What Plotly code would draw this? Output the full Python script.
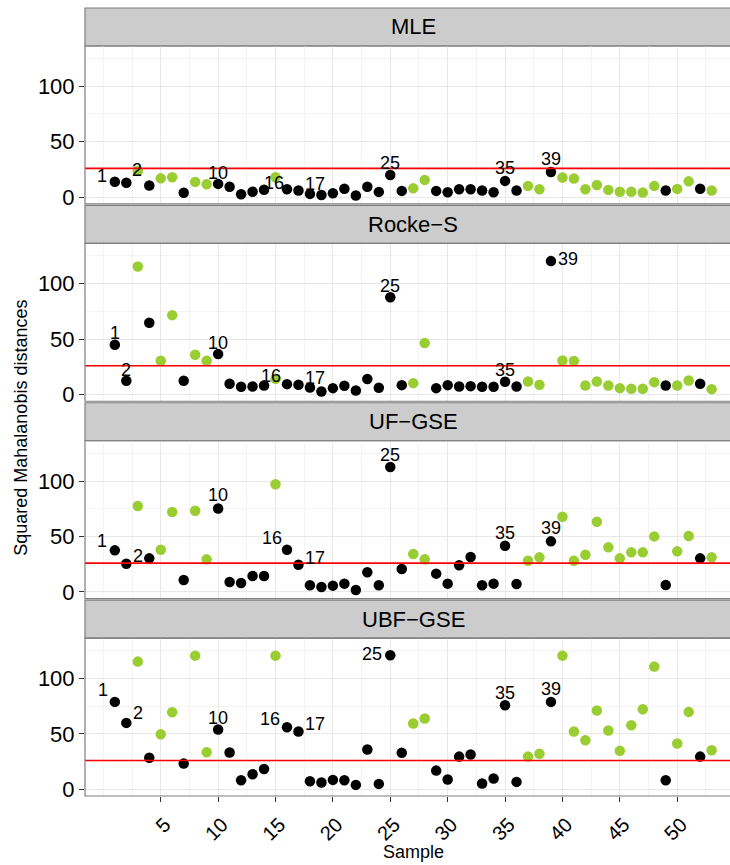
import plotly.graph_objects as go

# ---------------- data ----------------
samples = list(range(1, 54))
black_samples = [1, 2, 4, 7, 10, 11, 12, 13, 14, 16, 17, 18, 19, 20, 21, 22, 23, 24,
                 25, 26, 29, 30, 31, 32, 33, 34, 35, 36, 39, 49, 52]

mle = [14, 13, 23.7, 10.5, 17, 18, 4, 13.8, 11.7, 12, 9.5, 2.7, 5, 6.8, 18, 7.2, 6, 3,
       2, 3.6, 7.7, 1.5, 9.5, 4.8, 20, 5.7, 8, 15.6, 5.7, 4.5, 7.2, 7.2, 6, 4.5, 14.7,
       6, 10.2, 7.2, 22.8, 17.7, 16.8, 7.2, 11, 6.6, 5, 5, 4.2, 10.2, 6, 7.5, 14.3, 7.7, 6]
rocke_s = [44.9, 12.4, 115.4, 64.7, 30.5, 71.6, 12.4, 35.9, 30.5, 36.5, 9.7, 7, 7.3, 8.2,
           14.2, 9.4, 8.8, 6.4, 2.8, 5.8, 7.9, 3.7, 14, 6.1, 87.8, 8.5, 10.3, 46.4, 5.8,
           8.5, 7.3, 7.6, 7, 7, 11.5, 7.3, 11.8, 8.8, 120.3, 30.7, 30.2, 8.2, 11.8, 8.2,
           5.8, 5.2, 5.2, 11.2, 8.2, 8.2, 12.7, 9.7, 4.9]
uf_gse = [37.5, 25.5, 77.5, 30.3, 38.1, 72, 10.8, 73.2, 29.4, 75.3, 9, 8.1, 14.4, 14.4,
          97, 38.1, 24.6, 6, 4.5, 5.7, 7.5, 1.8, 17.7, 6, 112.6, 20.7, 34.2, 29.4, 16.5,
          7.5, 24, 31.5, 6, 7.5, 41.7, 7.2, 28.2, 31.2, 45.6, 67.8, 28.2, 33.6, 63.3,
          40.2, 30.3, 35.7, 35.7, 50.1, 6.3, 36.6, 50.4, 30.3, 31.2]
ubf_gse = [78.8, 59.9, 115.1, 28.4, 49.6, 69.5, 23.2, 120.5, 33.4, 53.9, 33.2, 8.2, 13.6,
           18.4, 120.5, 56, 52.1, 7.3, 6.1, 8.5, 8.2, 4, 35.9, 4.9, 120.8, 32.9, 59.3,
           63.8, 16.9, 8.8, 29.5, 31.4, 5.2, 9.7, 75.8, 6.7, 29.5, 32, 78.8, 120.5, 52.1,
           44.2, 71, 53, 34.7, 57.7, 72.2, 110.6, 8.2, 41.3, 69.8, 29.5, 35.2]

methods = ["MLE", "Rocke−S", "UF−GSE", "UBF−GSE"]
threshold = 26
labelled_samples = [1, 2, 10, 16, 17, 25, 35, 39]
y_tick_values = [0, 50, 100]
x_tick_values = [5, 10, 15, 20, 25, 30, 35, 40, 45, 50]

# ---------------- styling / layout ----------------
series = [mle, rocke_s, uf_gse, ubf_gse]
# label offsets (px: right, up) per panel
label_offsets = [
    {1: (-13, 6), 2: (11, 13), 10: (0, 11), 16: (-13, 6), 17: (17, 7), 25: (0, 12), 35: (0, 13), 39: (0, 13)},
    {1: (0, 12), 2: (0, 11), 10: (0, 11), 16: (-16, 8), 17: (17, 7), 25: (0, 11), 35: (0, 12), 39: (17, 2)},
    {1: (-13, 9), 2: (12, 8), 10: (0, 13), 16: (-15, 12), 17: (17, 7), 25: (0, 12), 35: (0, 13), 39: (0, 13)},
    {1: (-12, 12), 2: (12, 10), 10: (0, 12), 16: (-17, 8), 17: (17, 8), 25: (-18, 1), 35: (0, 12), 39: (0, 13)},
]

FONT = "Liberation Sans, Arial, Helvetica, sans-serif"
GREEN = "#9ACD32"
W, H = 730, 865
ML, MR, MT, MB = 85, 0, 8, 68.5
plot_h = H - MT - MB
plot_w = W - ML - MR
STRIP_H = 38
PANEL_H = 158
STEP = 197.5
X_RANGE = [-1.6, 54.6]
Y_RANGE = [-6, 136.3]


def py(pix):  # pixel y (from top of figure) -> paper y
    return (H - MB - pix) / plot_h


def px(pix):  # pixel x -> paper x
    return (pix - ML) / plot_w


fig = go.Figure()
shapes = []
annotations = []

for k, (name, vals) in enumerate(zip(methods, series)):
    idx = "" if k == 0 else str(k + 1)
    xa, ya = "x" + idx, "y" + idx
    panel_top = MT + STRIP_H + k * STEP
    panel_bot = panel_top + PANEL_H
    strip_top = panel_top - STRIP_H

    colors = ["#000000" if s in black_samples else GREEN for s in samples]
    fig.add_trace(go.Scatter(
        x=samples, y=vals, mode="markers", xaxis=xa, yaxis=ya,
        marker=dict(size=10.5, color=colors, line=dict(width=0)),
        showlegend=False, hoverinfo="x+y"))
    fig.add_trace(go.Scatter(
        x=[X_RANGE[0], X_RANGE[1] + 5], y=[threshold, threshold], mode="lines",
        xaxis=xa, yaxis=ya, line=dict(color="#FF0000", width=1.6),
        showlegend=False, hoverinfo="skip", cliponaxis=True))

    for s in labelled_samples:
        dx, dy = label_offsets[k][s]
        annotations.append(dict(
            x=s, y=vals[s - 1], xref=xa, yref=ya, text=str(s), showarrow=False,
            xshift=dx, yshift=dy, xanchor="center", yanchor="middle",
            font=dict(family=FONT, size=18, color="#000000")))

    is_bottom = k == len(methods) - 1
    fig.layout[("xaxis" + idx)] = dict(
        domain=[0, 1], range=X_RANGE, anchor=ya,
        tickmode="array", tickvals=x_tick_values,
        showticklabels=is_bottom, ticks="outside" if is_bottom else "",
        ticklen=5, tickwidth=1, tickcolor="#333333",
        tickangle=-45, ticklabelshift=4, ticklabelstandoff=3,
        tickfont=dict(family=FONT, size=20, color="#000000"),
        showgrid=True, gridcolor="#E8E8E8", gridwidth=1,
        minor=dict(tickmode="array", tickvals=[v * 2.5 for v in range(0, 23) if v % 2 == 1 or v == 0],
                   showgrid=True, gridcolor="#F4F4F4", gridwidth=0.8, ticks=""),
        zeroline=False, showline=False,
        matches=None if k == 0 else "x",
    )
    fig.layout[("yaxis" + idx)] = dict(
        domain=[py(panel_bot), py(panel_top)], range=Y_RANGE, anchor=xa,
        tickmode="array", tickvals=y_tick_values,
        ticks="outside", ticklen=5, tickwidth=1, tickcolor="#333333",
        tickfont=dict(family=FONT, size=22, color="#000000"),
        showgrid=True, gridcolor="#E8E8E8", gridwidth=1,
        minor=dict(tickmode="array", tickvals=[-25, 25, 75, 125],
                   showgrid=True, gridcolor="#F4F4F4", gridwidth=0.8, ticks=""),
        zeroline=False, showline=False,
    )

    # panel border
    shapes.append(dict(type="rect", xref="paper", yref="paper",
                       x0=0, x1=1.05, y0=py(panel_bot), y1=py(panel_top),
                       line=dict(color="#7F7F7F", width=1.2), fillcolor="rgba(0,0,0,0)",
                       layer="above"))
    # strip
    shapes.append(dict(type="rect", xref="paper", yref="paper",
                       x0=0, x1=1.05, y0=py(panel_top), y1=py(strip_top),
                       line=dict(color="#7F7F7F", width=1.2), fillcolor="#CCCCCC",
                       layer="below"))
    annotations.append(dict(
        x=px(413), y=py(strip_top + STRIP_H / 2), xref="paper", yref="paper",
        text=name, showarrow=False, xanchor="center", yanchor="middle",
        font=dict(family=FONT, size=22, color="#000000")))

annotations.append(dict(
    x=px(21), y=py(428), xref="paper", yref="paper", text="Squared Mahalanobis distances",
    showarrow=False, textangle=-90, xanchor="center", yanchor="middle",
    font=dict(family=FONT, size=18, color="#000000")))
annotations.append(dict(
    x=px(413), y=py(853), xref="paper", yref="paper", text="Sample",
    showarrow=False, xanchor="center", yanchor="middle",
    font=dict(family=FONT, size=18, color="#000000")))

fig.update_layout(
    width=W, height=H, autosize=False,
    margin=dict(l=ML, r=MR, t=MT, b=MB, pad=0),
    paper_bgcolor="#FFFFFF", plot_bgcolor="#FFFFFF",
    shapes=shapes, annotations=annotations,
    font=dict(family=FONT, color="#000000"),
)

fig.write_html("out.html", config={"displayModeBar": False},
               post_script="document.body.style.margin='0px';document.body.style.overflow='hidden';")
